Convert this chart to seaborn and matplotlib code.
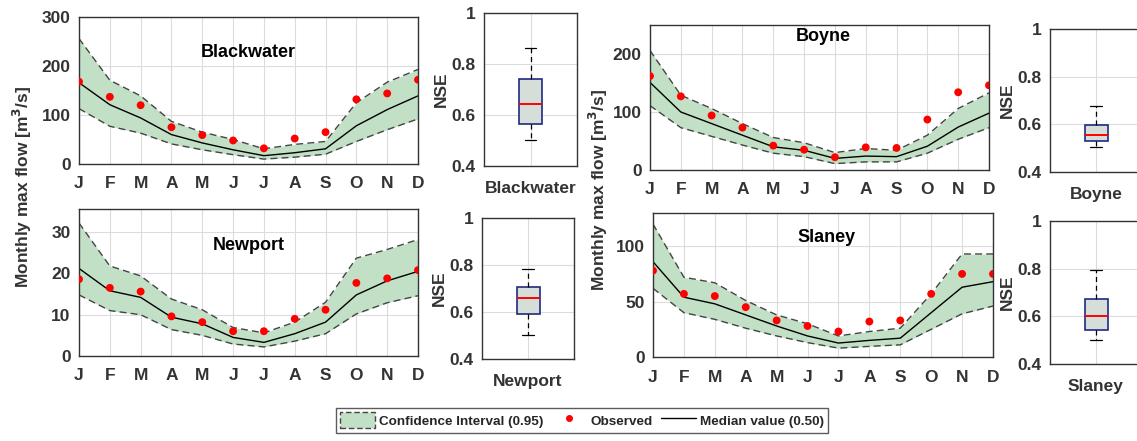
import numpy as np
import pandas as pd
import seaborn as sns
from matplotlib import pyplot as plt
from matplotlib.patches import Patch
from matplotlib.lines import Line2D

MONTHS = ['J', 'F', 'M', 'A', 'M', 'J', 'J', 'A', 'S', 'O', 'N', 'D']

# monthly max flow
bw_upper = [256, 171, 139, 87, 65, 50, 31, 40, 46, 125, 167, 193]
bw_median = [166, 121, 94, 60, 43, 29, 17, 23, 31, 78, 111, 139]
bw_lower = [113, 77, 63, 41, 29, 19, 10, 14, 20, 46, 70, 92]
bw_obs = [168, 137, 120, 75, 59, 48, 32, 52, 65, 132, 144, 172]

np_upper = [32.2, 21.8, 19.4, 13.8, 11.2, 6.9, 5.6, 8.2, 13.0, 23.7, 25.8, 28.2]
np_median = [21.2, 15.8, 14.2, 9.4, 7.8, 4.5, 3.3, 5.4, 8.2, 14.8, 18.2, 20.5]
np_lower = [14.8, 11.0, 10.0, 6.4, 5.0, 2.9, 2.2, 3.6, 5.4, 10.2, 12.9, 14.6]
np_obs = [18.6, 16.5, 15.6, 9.6, 8.2, 6.0, 6.0, 9.0, 11.2, 17.7, 18.8, 20.8]

by_upper = [206, 129, 106, 80, 56, 47, 30, 37, 34, 60, 106, 133]
by_median = [151, 100, 80, 60, 40, 34, 20, 24, 23, 41, 74, 98]
by_lower = [111, 73, 58, 43, 29, 23, 11, 14, 14, 29, 53, 73]
by_obs = [162, 127, 94, 73, 42, 35, 22, 39, 38, 87, 134, 146]

sl_upper = [120, 72, 67, 51, 38, 30, 19, 23, 26, 57, 93, 93]
sl_median = [86, 54, 48, 38, 28, 19, 12.6, 15, 17, 40, 63, 68]
sl_lower = [62, 40, 34, 26, 19, 13, 8, 9.6, 11, 25, 39, 46]
sl_obs = [78, 57, 55, 45, 33, 28, 23, 32, 33, 57, 75, 75]

# NSE summary: min, q1, median, q3, max
bw_nse = [0.501, 0.566, 0.645, 0.741, 0.864]
np_nse = [0.504, 0.590, 0.661, 0.707, 0.783]
by_nse = [0.503, 0.528, 0.557, 0.596, 0.675]
sl_nse = [0.501, 0.544, 0.600, 0.673, 0.794]

FILL = '#c2e0c6'
W, H = 1137, 441

sns.set_theme(style='white')
plt.rcParams['font.family'] = ['Liberation Sans', 'DejaVu Sans']
plt.rcParams['font.weight'] = 'bold'

fig = plt.figure(figsize=(W / 100, H / 100), dpi=100)


def px_axes(l, r, t, b):
    return fig.add_axes([l / W, 1 - b / H, (r - l) / W, (b - t) / H])


def style(ax, xpad=8):
    for s in ax.spines.values():
        s.set_visible(True)
        s.set_color('#333333')
        s.set_linewidth(1.0)
    ax.grid(True, color='#dcdcdc', linewidth=0.8)
    ax.set_axisbelow(True)
    ax.tick_params(labelsize=12.5, colors='#333333', length=0)
    ax.tick_params(axis='y', pad=6)
    ax.tick_params(axis='x', pad=xpad)
    for lab in ax.get_xticklabels() + ax.get_yticklabels():
        lab.set_fontweight('bold')


def flow_panel(box, name, upper, median, lower, obs, ylim, yticks, tpos):
    ax = px_axes(*box)
    df = pd.DataFrame({'m': np.arange(12), 'upper': upper, 'median': median,
                       'lower': lower, 'obs': obs})
    ax.fill_between(df['m'], df['lower'], df['upper'], color=FILL, linewidth=0)
    sns.lineplot(data=df, x='m', y='upper', ax=ax, color='#444444', lw=1.0, linestyle=(0, (5, 3)))
    sns.lineplot(data=df, x='m', y='lower', ax=ax, color='#444444', lw=1.0, linestyle=(0, (5, 3)))
    sns.lineplot(data=df, x='m', y='median', ax=ax, color='black', lw=1.0)
    sns.scatterplot(data=df, x='m', y='obs', ax=ax, color='red', s=32, edgecolor='none', zorder=5)
    ax.set_xlim(0, 11)
    ax.set_ylim(*ylim)
    ax.set_xticks(range(12))
    ax.set_xticklabels(MONTHS)
    ax.set_yticks(yticks)
    ax.set_xlabel('')
    ax.set_ylabel('')
    ax.text(tpos[0], tpos[1], name, transform=ax.transAxes, ha='center', va='center',
            fontsize=13, fontweight='bold', color='black')
    style(ax, xpad=9)
    return ax


def nse_panel(box, name, vals):
    ax = px_axes(*box)
    df = pd.DataFrame({'river': name, 'nse': vals})
    sns.boxplot(data=df, x='river', y='nse', ax=ax, width=0.25, whis=np.inf,
                color='#d5dfd8', linecolor='#1f2a80', linewidth=1.2,
                whiskerprops=dict(color='black', linestyle=(0, (4, 3)), linewidth=0.9),
                capprops=dict(color='black', linewidth=0.9),
                medianprops=dict(color='red', linewidth=1.4))
    ax.set_ylim(0.4, 1.0)
    ax.set_yticks([0.4, 0.6, 0.8, 1.0])
    ax.set_yticklabels(['0.4', '0.6', '0.8', '1'])
    ax.set_xlim(-0.5, 0.5)
    ax.set_xlabel('')
    ax.set_ylabel('NSE', fontsize=12.5, fontweight='bold', color='#333333', labelpad=2)
    style(ax, xpad=11)
    return ax


flow_panel((79, 418, 17, 164), 'Blackwater', bw_upper, bw_median, bw_lower, bw_obs,
           (0, 300), [0, 100, 200, 300], (0.50, 0.76))
flow_panel((79, 418, 209, 356), 'Newport', np_upper, np_median, np_lower, np_obs,
           (0, 35.6), [0, 10, 20, 30], (0.50, 0.755))
flow_panel((650, 989, 25, 170), 'Boyne', by_upper, by_median, by_lower, by_obs,
           (0, 250), [0, 100, 200], (0.51, 0.92))
flow_panel((653, 993, 213, 357), 'Slaney', sl_upper, sl_median, sl_lower, sl_obs,
           (0, 130), [0, 50, 100], (0.51, 0.83))

nse_panel((484, 577, 13, 166), 'Blackwater', bw_nse)
nse_panel((482, 574, 218, 359), 'Newport', np_nse)
nse_panel((1050, 1142, 29, 172), 'Boyne', by_nse)
nse_panel((1050, 1142, 221, 364), 'Slaney', sl_nse)

ylab = 'Monthly max flow [m$^\\mathbf{3}$/s]'
fig.text(22 / W, 1 - 187 / H, ylab, rotation=90, ha='center', va='center',
         fontsize=12.5, fontweight='bold', color='#333333')
fig.text(598 / W, 1 - 190 / H, ylab, rotation=90, ha='center', va='center',
         fontsize=12.5, fontweight='bold', color='#333333')

handles = [
    Patch(facecolor=FILL, edgecolor='#444444', linestyle=(0, (4, 2)), linewidth=1.0),
    Line2D([], [], marker='o', color='red', linestyle='none', markersize=4),
    Line2D([], [], color='black', linewidth=1.0),
]
labels = ['Confidence Interval (0.95)', 'Observed', 'Median value (0.50)']
leg = fig.legend(handles, labels, loc='upper center', bbox_to_anchor=(582 / W, 1 - 408 / H),
                 ncol=3, frameon=True, fancybox=False, edgecolor='#333333',
                 prop=dict(size=9.7, weight='bold'), handlelength=2.6, handleheight=1.5,
                 columnspacing=0.6, handletextpad=0.3, borderpad=0.3, borderaxespad=0)
leg.get_frame().set_linewidth(1.0)

fig.savefig('out.png', dpi=100)
